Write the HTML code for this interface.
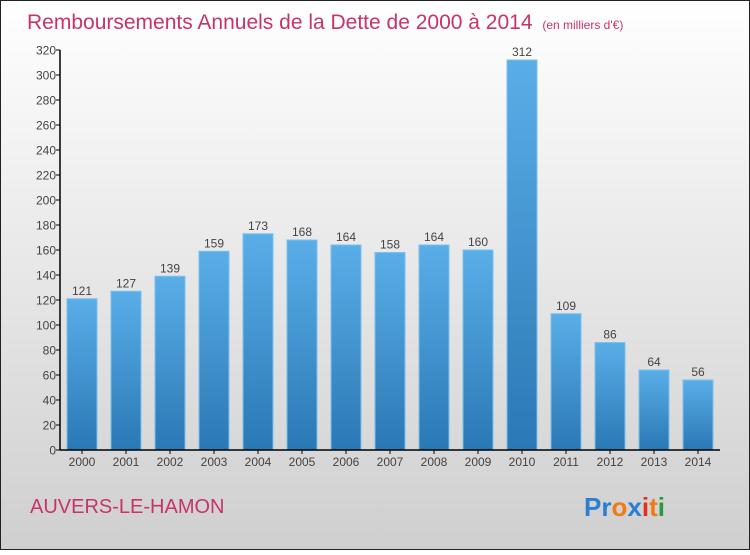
<!DOCTYPE html>
<html><head><meta charset="utf-8"><style>
body{margin:0;width:750px;height:550px;overflow:hidden;font-family:"Liberation Sans","DejaVu Sans",sans-serif}
</style></head><body>
<svg width="750" height="550" xmlns="http://www.w3.org/2000/svg">
<defs>
<linearGradient id="bg" x1="0" y1="0" x2="0" y2="1"><stop offset="0" stop-color="#ffffff"/><stop offset="1" stop-color="#cfcfcf"/></linearGradient>
<linearGradient id="bar" x1="0" y1="0" x2="0" y2="1"><stop offset="0" stop-color="#5aaee8"/><stop offset="1" stop-color="#2a78b5"/></linearGradient>
</defs>
<rect x="0.5" y="0.5" width="749" height="549" fill="url(#bg)" stroke="#222"/>
<text x="27" y="29" font-size="21" fill="#c8336a">Remboursements Annuels de la Dette de 2000 à 2014 <tspan font-size="12" dx="4">(en milliers d'€)</tspan></text>
<g id="yaxis"></g>
<g id="bars"></g>
<g id="xaxis"></g>
<text x="30" y="513" font-size="20" fill="#c8336a">AUVERS-LE-HAMON</text>
<text x="584" y="516" font-size="26" font-weight="bold"><tspan fill="#2a7fd0">Pr</tspan><tspan fill="#f07b10">o</tspan><tspan fill="#2a7fd0">x</tspan><tspan fill="#e03020">i</tspan><tspan fill="#f07b10">t</tspan><tspan fill="#2a9a40">i</tspan></text>
</svg>
<script>
const years=["2000","2001","2002","2003","2004","2005","2006","2007","2008","2009","2010","2011","2012","2013","2014"];
const values=[121,127,139,159,173,168,164,158,164,160,312,109,86,64,56];
const yTicks=[0,20,40,60,80,100,120,140,160,180,200,220,240,260,280,300,320];
const NS="http://www.w3.org/2000/svg";
const y0=450,yTop=50,yMax=320,x0=60,step=44,bw=30;
const ys=v=>y0-(v/yMax)*(y0-yTop);
const xs=i=>x0+22+i*step;
function mk(t,a,p,txt){const e=document.createElementNS(NS,t);for(const k in a)e.setAttribute(k,a[k]);if(txt!==undefined)e.textContent=txt;p.appendChild(e);return e;}
const ya=document.getElementById('yaxis'),ba=document.getElementById('bars'),xa=document.getElementById('xaxis');
const yl=mk('line',{x1:x0,y1:yTop,x2:x0,y2:y0,stroke:'#000','stroke-width':1.5},ya);


yTicks.forEach(v=>{
 const t=mk('line',{x1:x0-4,y1:ys(v),x2:x0,y2:ys(v),stroke:'#000'},ya);
 
 
 const l=mk('text',{x:x0-4,y:ys(v)+4.5,'text-anchor':'end','font-size':12,fill:'#444'},ya,v);
 
 
});
values.forEach((v,i)=>{
 const r=mk('rect',{x:xs(i)-bw/2,y:ys(v),width:bw,height:y0-ys(v),fill:'url(#bar)',stroke:'#7cc0ee','stroke-width':1},ba);
 
 
 const l=mk('text',{x:xs(i),y:ys(v)-4,'text-anchor':'middle','font-size':12,fill:'#444'},ba,v);
 
 
 const tk=mk('line',{x1:xs(i),y1:y0,x2:xs(i),y2:y0+4,stroke:'#000'},xa);
 
 
 const xl=mk('text',{x:xs(i),y:y0+16,'text-anchor':'middle','font-size':12,fill:'#444'},xa,years[i]);
 
 
});
const xl=mk('line',{x1:x0,y1:y0,x2:720,y2:y0,stroke:'#000','stroke-width':1.5},xa);


</script>
</body></html>
